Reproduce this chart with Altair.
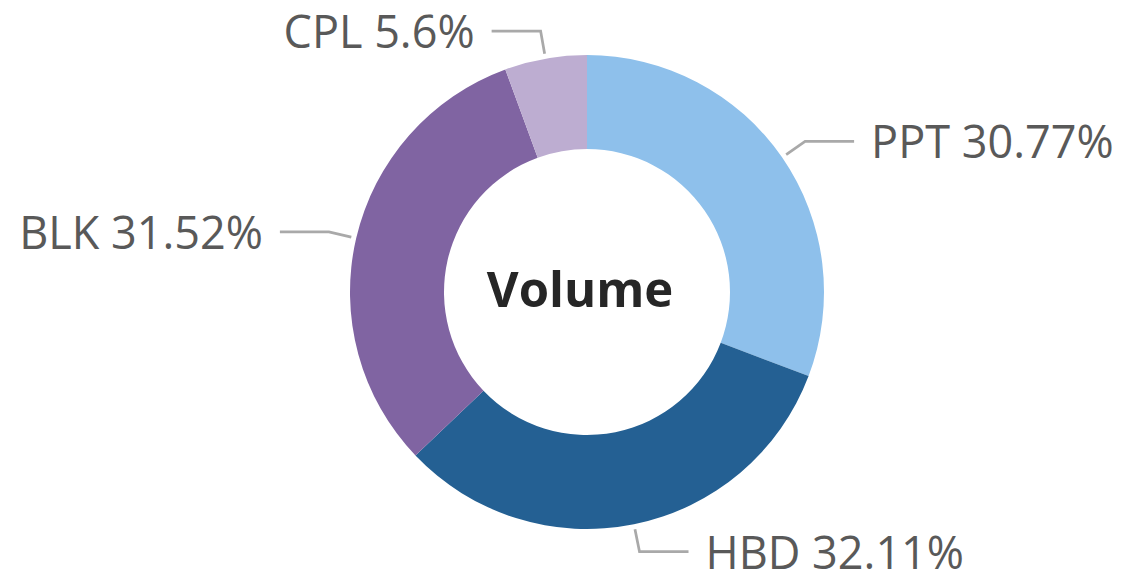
import math
import altair as alt
import pandas as pd

# ---- data ----
labels = ["PPT", "HBD", "BLK", "CPL"]
values = [30.77, 32.11, 31.52, 5.6]
pct_text = ["30.77%", "32.11%", "31.52%", "5.6%"]
colors = ["#8EC0EB", "#246093", "#8064A2", "#BDADD1"]
center_label = "Volume"

# ---- layout (image pixel coordinates) ----
MARGIN = 8
W, H = 1121 - 2 * MARGIN, 582 - 2 * MARGIN
CX, CY = 587, 292
R_OUT, R_IN = 237, 143
LEAD_START, LEAD_ELBOW, LEAD_LEN, GAP = 242, 265, 49, 17

total = sum(values)
arc_df = pd.DataFrame({"label": labels, "value": values, "idx": range(len(labels))})

line_rows, text_rows = [], []
cum = 0.0
for i, (lab, v, t) in enumerate(zip(labels, values, pct_text)):
    mid = (cum + v / 2) / total * 2 * math.pi
    cum += v
    s, c = math.sin(mid), math.cos(mid)
    side = 1 if s >= 0 else -1
    p0 = (CX + LEAD_START * s, CY - LEAD_START * c)
    p1 = (CX + LEAD_ELBOW * s, CY - LEAD_ELBOW * c)
    p2 = (p1[0] + side * LEAD_LEN, p1[1])
    for k, p in enumerate([p0, p1, p2]):
        line_rows.append({"label": lab, "k": k, "x": p[0], "y": p[1]})
    text_rows.append({"label": lab, "text": f"{lab} {t}", "x": p2[0] + side * GAP,
                      "y": p2[1], "side": "right" if side > 0 else "left"})

line_df = pd.DataFrame(line_rows)
text_df = pd.DataFrame(text_rows)

xs = alt.Scale(domain=[MARGIN, MARGIN + W], nice=False, zero=False)
ys = alt.Scale(domain=[MARGIN, MARGIN + H], nice=False, zero=False, reverse=True)

arcs = alt.Chart(arc_df).mark_arc(outerRadius=R_OUT, innerRadius=R_IN).encode(
    theta=alt.Theta("value:Q", stack=True),
    order=alt.Order("idx:Q"),
    color=alt.Color("label:N", scale=alt.Scale(domain=labels, range=colors), legend=None),
    x=alt.value(CX - MARGIN),
    y=alt.value(CY - MARGIN),
)

leaders = alt.Chart(line_df).mark_line(color="#A9A9A9", strokeWidth=2.75).encode(
    x=alt.X("x:Q", scale=xs, axis=None),
    y=alt.Y("y:Q", scale=ys, axis=None),
    detail="label:N",
    order="k:Q",
)

txt_right = alt.Chart(text_df).transform_filter(alt.datum.side == "right").mark_text(
    align="left", baseline="middle", font="Open Sans", fontSize=45, color="#595959", dy=3
).encode(x=alt.X("x:Q", scale=xs), y=alt.Y("y:Q", scale=ys), text="text:N")

txt_left = alt.Chart(text_df).transform_filter(alt.datum.side == "left").mark_text(
    align="right", baseline="middle", font="Open Sans", fontSize=45, color="#595959", dy=3
).encode(x=alt.X("x:Q", scale=xs), y=alt.Y("y:Q", scale=ys), text="text:N")

center = alt.Chart(pd.DataFrame({"t": [center_label]})).mark_text(
    align="center", baseline="middle", font="Open Sans", fontWeight="bold",
    fontSize=49, color="#262626", dx=-7, dy=0
).encode(x=alt.value(CX - MARGIN), y=alt.value(CY - MARGIN), text="t:N")

chart = alt.layer(arcs, leaders, txt_right, txt_left, center).properties(
    width=W, height=H, padding=0, autosize=alt.AutoSizeParams(type="none")
).configure_view(stroke=None)

chart.save("out.html", embed_options={"renderer": "svg", "actions": False})
